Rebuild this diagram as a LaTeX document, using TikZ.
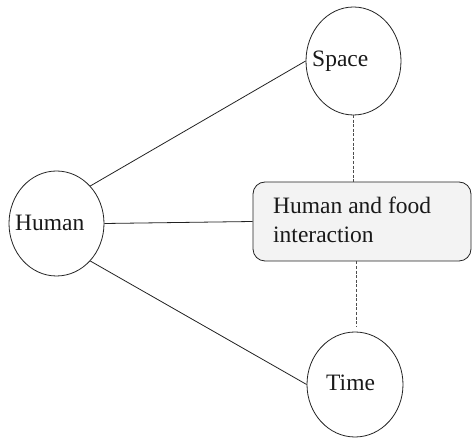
\documentclass[tikz,border=0pt]{standalone}
\usepackage{fontspec}
\setmainfont{Liberation Serif}
\usetikzlibrary{shapes.geometric}
\definecolor{boxfill}{HTML}{F3F3F3}
\definecolor{stroke}{HTML}{222222}
\begin{document}
\begin{tikzpicture}[x=1pt,y=-1pt,
  oval/.style={draw=stroke,line width=0.8pt,ellipse,inner sep=0pt},
  txt/.style={anchor=base west,inner sep=0pt,font=\fontsize{23.5}{29}\selectfont,text=black!90},
  conn/.style={draw=stroke,line width=0.8pt},
  dconn/.style={draw=stroke!80,line width=0.9pt,dash pattern=on 3pt off 1.6pt}]
\useasboundingbox (0,0) rectangle (472,438);
\node[oval,minimum width=95pt,minimum height=105pt] (human) at (56.5,223.5) {};
\node[oval,minimum width=95pt,minimum height=108pt] (space) at (353.5,61) {};
\node[oval,minimum width=96pt,minimum height=105pt] (time) at (355,384.5) {};
\node[draw=stroke,line width=0.8pt,rounded corners=12pt,fill=boxfill,
      minimum width=218pt,minimum height=79pt,inner sep=0pt] (box) at (362,221.5) {};
\node[txt] (thuman) at (15,231) {Human};
\node[txt] (tspace) at (312,67) {Space};
\node[txt] (ttime) at (326,391) {Time};
\node[txt] (tbox1) at (273,214) {Human and food};
\node[txt] (tbox2) at (273,243) {interaction};
\draw[conn] (human.48) -- (space.west);
\draw[conn] (human.-48) -- (time.west);
\draw[conn] (human.east) -- (box.west);
\coordinate (d1) at (353.7,115);
\coordinate (d2) at (356,327);
\draw[dconn] (d1) -- (d1 |- box.north);
\draw[dconn] (d2 |- box.south) -- (d2);
\end{tikzpicture}
\end{document}
